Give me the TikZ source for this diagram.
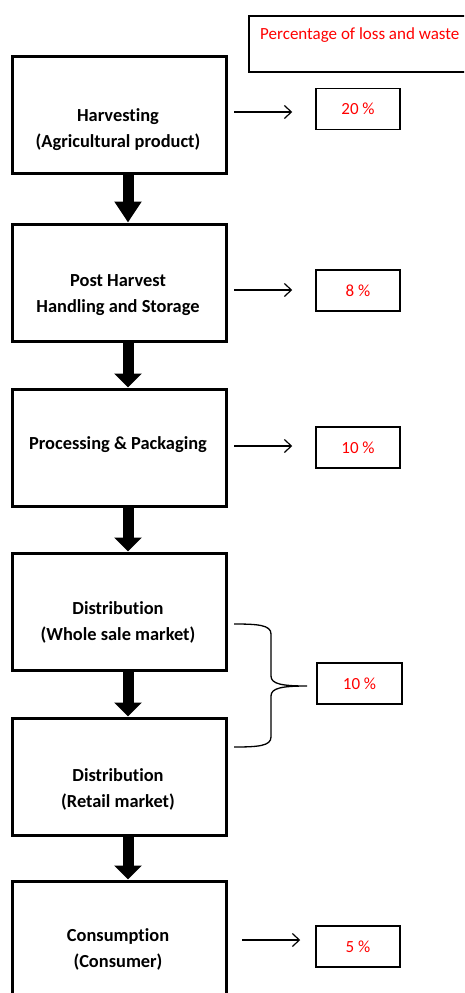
\documentclass[tikz,border=0pt]{standalone}
\usepackage{fontspec}
\setmainfont{Carlito}[Ligatures=NoCommon]
\usetikzlibrary{arrows.meta}
\begin{document}
\begin{tikzpicture}[x=1pt,y=-1pt,
  stagebox/.style={draw, line width=3pt, minimum width=214pt, minimum height=117pt, inner sep=0pt},
  lbl/.style={font=\bfseries\fontsize{18.4pt}{26pt}\selectfont, align=center, inner sep=0pt},
  pct/.style={draw, line width=1.5pt, minimum width=84pt, minimum height=41pt, inner sep=0pt, text=red, font=\fontsize{17pt}{20pt}\selectfont},
  bigarrow/.style={line width=11pt, -{Triangle[length=14pt,width=27pt]}},
  thinarrow/.style={line width=1.2pt, -{Straight Barb[length=7pt,width=13pt]}},
  hdrbox/.style={draw, line width=2pt, minimum width=232pt, minimum height=56pt, inner sep=0pt, anchor=north west},
  hdrtext/.style={text=red, anchor=west, inner sep=0pt, font=\fontsize{17pt}{20pt}\selectfont}
]
\useasboundingbox (0,0) rectangle (464,993);
\clip (0,0) rectangle (464,993);

% header
\node[hdrbox] (hdr) at (248,15) {};
\node[hdrtext] (hdrt) at (260,35) {Percentage of loss and waste};

% stage boxes
\node[stagebox] (b1) at (119,114.5) {};
\node[stagebox] (b2) at (119,282.5) {};
\node[stagebox] (b3) at (119,447.5) {};
\node[stagebox] (b4) at (119,611.5) {};
\node[stagebox] (b5) at (119,776.5) {};
\node[stagebox] (b6) at (119,939.5) {};

% labels
\node[lbl] (t1) at (118,130) {Harvesting\\(Agricultural product)};
\node[lbl] (t2) at (118,295) {Post Harvest\\Handling and Storage};
\node[lbl] (t3) at (118,445) {Processing \& Packaging};
\node[lbl] (t4) at (118,622) {Distribution\\(Whole sale market)};
\node[lbl] (t5) at (118,789) {Distribution\\(Retail market)};
\node[lbl] (t6) at (118,949) {Consumption\\(Consumer)};

% big arrows
\draw[line width=11pt, -{Triangle[length=21pt,width=26pt]}] ([xshift=9pt]b1.south) -- ([xshift=9pt]b2.north);
\draw[bigarrow] ([xshift=9pt]b2.south) -- ([xshift=9pt]b3.north);
\draw[bigarrow] ([xshift=9pt]b3.south) -- ([xshift=9pt]b4.north);
\draw[bigarrow] ([xshift=9pt]b4.south) -- ([xshift=9pt]b5.north);
\draw[bigarrow] ([xshift=9pt]b5.south) -- ([xshift=9pt]b6.north);

% percentage boxes
\node[pct] (p1) at (358,109) {20 \%};
\node[pct] (p2) at (358,290.5) {8 \%};
\node[pct] (p3) at (358,447.5) {10 \%};
\node[pct, minimum width=85pt] (p4) at (359.5,683.5) {10 \%};
\node[pct] (p6) at (358,946.5) {5 \%};

% thin arrows
\draw[thinarrow] ([xshift=6.5pt,yshift=2.5pt]b1.east) -- ([xshift=-23pt,yshift=2.5pt]b1.east -| p1.west);
\draw[thinarrow] ([xshift=6.5pt,yshift=-7.5pt]b2.east) -- ([xshift=-23pt,yshift=-7.5pt]b2.east -| p2.west);
\draw[thinarrow] ([xshift=6.5pt,yshift=1.5pt]b3.east) -- ([xshift=-23pt,yshift=1.5pt]b3.east -| p3.west);
\draw[thinarrow] ([xshift=14.5pt,yshift=-0.5pt]b6.east) -- ([xshift=-15pt,yshift=-0.5pt]b6.east -| p6.west);

% brace
\coordinate (brtop) at (234,624);
\coordinate (brtip) at (307,686);
\coordinate (brbot) at (234,747);
\draw[line width=1.3pt]
  (brtop) .. controls (258,624) and (271,625) .. (271,634)
  -- (271,676) .. controls (271,684) and (282,686) .. (brtip)
  .. controls (282,686) and (271,688) .. (271,696)
  -- (271,737) .. controls (271,746) and (258,747) .. (brbot);
\end{tikzpicture}
\end{document}
